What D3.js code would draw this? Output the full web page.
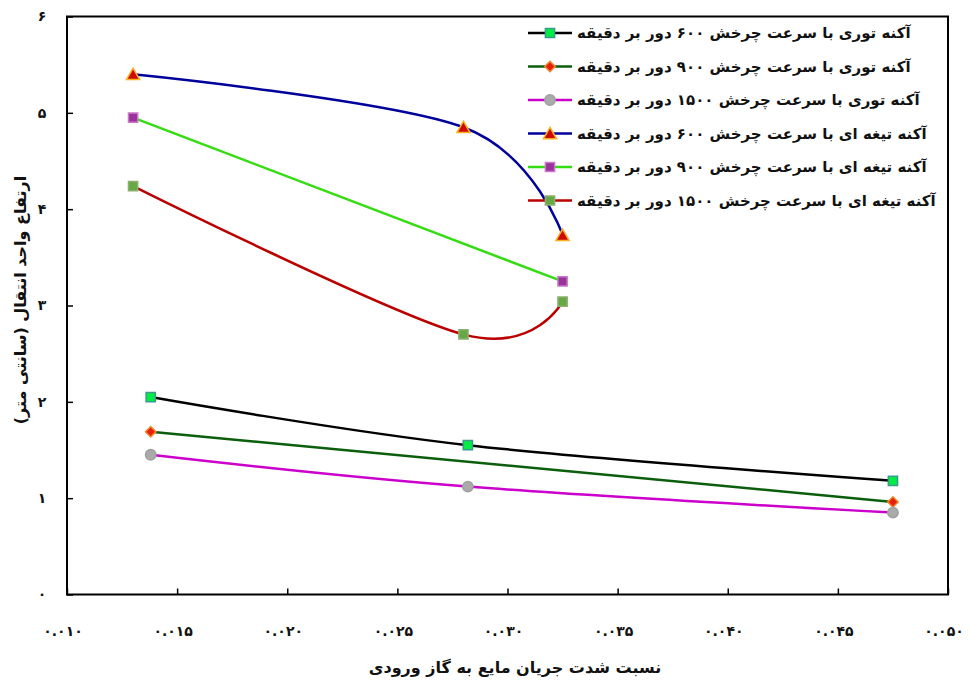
<!DOCTYPE html>
<html>
<head>
<meta charset="utf-8">
<script src="https://cdn.jsdelivr.net/npm/d3@7"></script>
<style>
    body { margin: 0; background: #fff; }
    svg { display: block; font-family: "DejaVu Sans", sans-serif; }
    .tick-label { font-size: 14px; font-weight: bold; fill: #111; }
    .axis-title { font-size: 16px; font-weight: bold; fill: #111; }
    .legend-label { font-size: 15px; font-weight: bold; fill: #111; }
</style>
</head>
<body>
<div id="chart"></div>
<script>
'use strict';

// Axis ticks
const xTicks = [0.010, 0.015, 0.020, 0.025, 0.030, 0.035, 0.040, 0.045, 0.050];
const yTicks = [0, 1, 2, 3, 4, 5, 6];

// Series names (legend order)
const seriesNames = [
    'آکنه توری با سرعت چرخش ۶۰۰ دور بر دقیقه',
    'آکنه توری با سرعت چرخش ۹۰۰ دور بر دقیقه',
    'آکنه توری با سرعت چرخش ۱۵۰۰ دور بر دقیقه',
    'آکنه تیغه ای با سرعت چرخش ۶۰۰ دور بر دقیقه',
    'آکنه تیغه ای با سرعت چرخش ۹۰۰ دور بر دقیقه',
    'آکنه تیغه ای با سرعت چرخش ۱۵۰۰ دور بر دقیقه'
];

// Series values (x = liquid/gas flow ratio, y = transfer unit height in cm)
const mesh600X = [0.0138, 0.0282, 0.0475];
const mesh600Y = [2.05, 1.55, 1.18];
const mesh900X = [0.0138, 0.0475];
const mesh900Y = [1.69, 0.96];
const mesh1500X = [0.0138, 0.0282, 0.0475];
const mesh1500Y = [1.45, 1.12, 0.85];
const blade600X = [0.0130, 0.0280, 0.0325];
const blade600Y = [5.40, 4.85, 3.73];
const blade900X = [0.0130, 0.0325];
const blade900Y = [4.95, 3.25];
const blade1500X = [0.0130, 0.0280, 0.0325];
const blade1500Y = [4.24, 2.70, 3.04];

const xTitle = 'نسبت شدت جریان مایع به گاز ورودی';
const yTitle = 'ارتفاع واحد انتقال (سانتی متر)';

// Styles per series
const styles = [
    { line: '#000000', symbol: d3.symbolSquare, size: 85, fill: '#00ee44', stroke: '#3b9a8c' },
    { line: '#0b5e0b', symbol: d3.symbolDiamond2, size: 70, fill: '#e8200a', stroke: '#f08a30' },
    { line: '#cc00cc', symbol: d3.symbolCircle, size: 85, fill: '#aaaaaa', stroke: '#a0a0a0' },
    { line: '#00009a', symbol: d3.symbolTriangle, size: 75, fill: '#cc0a00', stroke: '#ffb020' },
    { line: '#33dd11', symbol: d3.symbolSquare, size: 85, fill: '#993399', stroke: '#cc77cc' },
    { line: '#bb0000', symbol: d3.symbolSquare, size: 85, fill: '#66a844', stroke: '#8cb070' }
];

const series = [
    [mesh600X, mesh600Y], [mesh900X, mesh900Y], [mesh1500X, mesh1500Y],
    [blade600X, blade600Y], [blade900X, blade900Y], [blade1500X, blade1500Y]
].map(([xs, ys], i) => ({
    name: seriesNames[i],
    style: styles[i],
    points: xs.map((x, j) => ({ x, y: ys[j] }))
}));

// Persian digits
const faDigits = '۰۱۲۳۴۵۶۷۸۹';
const toFa = s => String(s).replace(/[0-9]/g, c => faDigits[+c]);

const width = 971, height = 683;
const frame = { left: 67, right: 948, top: 16.5, bottom: 594.5 };

const svg = d3.select('#chart').append('svg')
    .attr('width', width)
    .attr('height', height);

const scaleX = d3.scaleLinear().domain([0.010, 0.050]).range([frame.left, frame.right]);
const scaleY = d3.scaleLinear().domain([0, 6]).range([frame.bottom, frame.top]);

// Ticks (inward) and their labels
svg.append('g')
    .attr('transform', `translate(0, ${frame.bottom})`)
    .call(d3.axisTop(scaleX).tickValues(xTicks).tickSize(6).tickFormat(''))
    .call(g => g.select('.domain').remove())
    .call(g => g.selectAll('line').attr('stroke', '#000').attr('stroke-width', 1.5));

svg.append('g')
    .attr('transform', `translate(${frame.left}, 0)`)
    .call(d3.axisRight(scaleY).tickValues(yTicks).tickSize(6).tickFormat(''))
    .call(g => g.select('.domain').remove())
    .call(g => g.selectAll('line').attr('stroke', '#000').attr('stroke-width', 1.5));

svg.append('g').selectAll('text')
    .data(xTicks)
    .join('text')
    .classed('tick-label', true)
    .attr('x', d => scaleX(d) - 4)
    .attr('y', 636)
    .attr('text-anchor', 'middle')
    .text(d => toFa(d3.format('.3f')(d)));

svg.append('g').selectAll('text')
    .data(yTicks)
    .join('text')
    .classed('tick-label', true)
    .attr('x', 42)
    .attr('y', d => scaleY(d))
    .attr('dy', '0.35em')
    .attr('text-anchor', 'middle')
    .text(d => toFa(d));

// Plot frame
svg.append('rect')
    .attr('x', frame.left)
    .attr('y', frame.top)
    .attr('width', frame.right - frame.left)
    .attr('height', frame.bottom - frame.top)
    .attr('fill', 'none')
    .attr('stroke', '#000')
    .attr('stroke-width', 2);

// Lines (smoothed like the original)
const line = d3.line()
    .x(d => scaleX(d.x))
    .y(d => scaleY(d.y))
    .curve(d3.curveCardinal.tension(0));

const plot = svg.append('g');

plot.selectAll('path.series-line')
    .data(series)
    .join('path')
    .classed('series-line', true)
    .attr('d', d => line(d.points))
    .attr('fill', 'none')
    .attr('stroke', d => d.style.line)
    .attr('stroke-width', 2.5);

// Markers
const drawMarker = (sel, style) => sel
    .attr('d', d3.symbol().type(style.symbol).size(style.size))
    .attr('fill', style.fill)
    .attr('stroke', style.stroke)
    .attr('stroke-width', 1.5);

series.forEach(s => {
    plot.append('g').selectAll('path')
        .data(s.points)
        .join('path')
        .attr('transform', d => `translate(${scaleX(d.x)}, ${scaleY(d.y) + (s.style.symbol === d3.symbolTriangle ? 1.5 : 0)})`)
        .call(drawMarker, s.style);
});

// Legend
const legend = svg.append('g');
const rowY = i => 33 + i * 33.5;

const items = legend.selectAll('g.legend-item')
    .data(series)
    .join('g')
    .classed('legend-item', true)
    .attr('transform', (d, i) => `translate(0, ${rowY(i)})`);

items.append('line')
    .attr('x1', 528)
    .attr('x2', 572)
    .attr('stroke', d => d.style.line)
    .attr('stroke-width', 2.5);

items.append('path')
    .attr('transform', d => `translate(550, ${d.style.symbol === d3.symbolTriangle ? 1.5 : 0})`)
    .each(function(d) { d3.select(this).call(drawMarker, d.style); });

items.append('text')
    .classed('legend-label', true)
    .attr('x', 577)
    .attr('dy', '0.35em')
    .attr('direction', 'rtl')
    .attr('text-anchor', 'end')
    .text(d => d.name);

// Axis titles
svg.append('text')
    .classed('axis-title', true)
    .attr('x', 515)
    .attr('y', 667)
    .attr('dy', '0.35em')
    .attr('text-anchor', 'middle')
    .attr('direction', 'rtl')
    .text(xTitle);

svg.append('text')
    .classed('axis-title', true)
    .attr('transform', `translate(20, 300) rotate(-90)`)
    .attr('dy', '0.35em')
    .attr('text-anchor', 'middle')
    .attr('direction', 'rtl')
    .text(yTitle);
</script>
</body>
</html>
